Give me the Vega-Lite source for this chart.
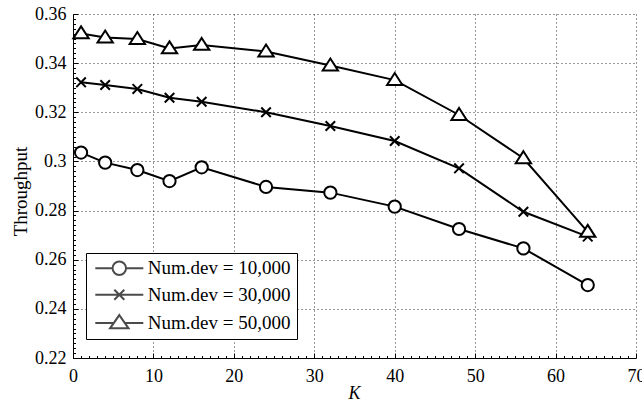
{
  "$schema": "https://vega.github.io/schema/vega-lite/v6.json",
  "autosize": {"type": "none"},
  "padding": {"left": 73, "top": 14, "right": 6, "bottom": 46},
  "width": 563,
  "height": 344,
  "config": {
    "font": "Liberation Serif",
    "view": {"stroke": null},
    "axis": {
      "labelFont": "Liberation Serif",
      "titleFont": "Liberation Serif",
      "labelColor": "black",
      "titleColor": "black",
      "domainColor": "black",
      "domainWidth": 1,
      "tickColor": "black",
      "tickWidth": 1,
      "gridColor": "#333333",
      "gridDash": [1, 3],
      "gridWidth": 1
    }
  },
  "data": {
    "values": [
      {"K": 1, "series": "Num.dev = 10,000", "T": 0.3036},
      {"K": 4, "series": "Num.dev = 10,000", "T": 0.2995},
      {"K": 8, "series": "Num.dev = 10,000", "T": 0.2965},
      {"K": 12, "series": "Num.dev = 10,000", "T": 0.2920},
      {"K": 16, "series": "Num.dev = 10,000", "T": 0.2976},
      {"K": 24, "series": "Num.dev = 10,000", "T": 0.2896},
      {"K": 32, "series": "Num.dev = 10,000", "T": 0.2873},
      {"K": 40, "series": "Num.dev = 10,000", "T": 0.2816},
      {"K": 48, "series": "Num.dev = 10,000", "T": 0.2725},
      {"K": 56, "series": "Num.dev = 10,000", "T": 0.2646},
      {"K": 64, "series": "Num.dev = 10,000", "T": 0.2497},
      {"K": 1, "series": "Num.dev = 30,000", "T": 0.3322},
      {"K": 4, "series": "Num.dev = 30,000", "T": 0.3311},
      {"K": 8, "series": "Num.dev = 30,000", "T": 0.3295},
      {"K": 12, "series": "Num.dev = 30,000", "T": 0.3259},
      {"K": 16, "series": "Num.dev = 30,000", "T": 0.3243},
      {"K": 24, "series": "Num.dev = 30,000", "T": 0.3200},
      {"K": 32, "series": "Num.dev = 30,000", "T": 0.3144},
      {"K": 40, "series": "Num.dev = 30,000", "T": 0.3083},
      {"K": 48, "series": "Num.dev = 30,000", "T": 0.2972},
      {"K": 56, "series": "Num.dev = 30,000", "T": 0.2795},
      {"K": 64, "series": "Num.dev = 30,000", "T": 0.2694},
      {"K": 1, "series": "Num.dev = 50,000", "T": 0.3521},
      {"K": 4, "series": "Num.dev = 50,000", "T": 0.3504},
      {"K": 8, "series": "Num.dev = 50,000", "T": 0.3498},
      {"K": 12, "series": "Num.dev = 50,000", "T": 0.3460},
      {"K": 16, "series": "Num.dev = 50,000", "T": 0.3474},
      {"K": 24, "series": "Num.dev = 50,000", "T": 0.3447},
      {"K": 32, "series": "Num.dev = 50,000", "T": 0.3390},
      {"K": 40, "series": "Num.dev = 50,000", "T": 0.3331},
      {"K": 48, "series": "Num.dev = 50,000", "T": 0.3189},
      {"K": 56, "series": "Num.dev = 50,000", "T": 0.3013},
      {"K": 64, "series": "Num.dev = 50,000", "T": 0.2713}
    ]
  },
  "encoding": {
    "x": {
      "field": "K",
      "type": "quantitative",
      "scale": {"domain": [0, 70], "nice": false, "zero": false},
      "axis": {
        "title": "K",
        "titleFontStyle": "italic",
        "titleFontWeight": "normal",
        "titleFontSize": 18,
        "titleX": 281,
        "titleY": 40,
        "titleBaseline": "alphabetic",
        "titleAlign": "center",
        "tickCount": 70,
        "labelFontSize": 18,
        "labelBaseline": "alphabetic",
        "labelPadding": 28,
        "labelFlush": false,
        "labelOverlap": false,
        "labelExpr": "datum.value % 10 === 0 ? datum.label : ''",
        "tickSize": {"condition": {"test": "datum.value % 10 === 0", "value": -5}, "value": -2.5},
        "gridOpacity": {"condition": {"test": "datum.value % 10 === 0", "value": 1}, "value": 0}
      }
    },
    "y": {
      "field": "T",
      "type": "quantitative",
      "scale": {"domain": [0.22, 0.36], "nice": false, "zero": false},
      "axis": {
        "title": "Throughput",
        "titleFontWeight": "normal",
        "titleFontSize": 19,
        "titleX": -47,
        "titleY": 177,
        "titleBaseline": "alphabetic",
        "titleAlign": "center",
        "tickCount": 70,
        "labelFontSize": 18,
        "labelBaseline": "middle",
        "labelAlign": "right",
        "labelPadding": 12,
        "labelFlush": false,
        "labelOverlap": false,
        "labelExpr": "round(datum.value * 500) % 10 === 0 ? format(datum.value, '.2~f') : ''",
        "tickSize": {"condition": {"test": "round(datum.value * 500) % 10 === 0", "value": -5}, "value": -2.5},
        "gridOpacity": {"condition": {"test": "round(datum.value * 500) % 10 === 0", "value": 1}, "value": 0}
      }
    }
  },
  "layer": [
    {
      "mark": {"type": "line", "color": "black", "strokeWidth": 2},
      "encoding": {"detail": {"field": "series"}}
    },
    {
      "mark": {"type": "point", "fill": "white", "stroke": "black", "strokeWidth": 2, "size": 150, "opacity": 1},
      "encoding": {
        "shape": {
          "field": "series",
          "type": "nominal",
          "scale": {
            "domain": ["Num.dev = 10,000", "Num.dev = 30,000", "Num.dev = 50,000"],
            "range": ["circle", "M-0.78,-0.78L0.78,0.78M0.78,-0.78L-0.78,0.78", "M0,-1.15L1.25,0.8L-1.25,0.8Z"]
          },
          "legend": null
        }
      }
    },
    {
      "transform": [{"filter": "datum.K < 0"}],
      "mark": {"type": "point", "color": "black", "filled": false, "strokeWidth": 2},
      "encoding": {
        "shape": {
          "field": "series",
          "type": "nominal",
          "scale": {
            "domain": ["Num.dev = 10,000", "Num.dev = 30,000", "Num.dev = 50,000"],
            "range": [
              "M-4.8,0L-1.35,0M1.35,0L4.8,0M-1.35,0A1.35,1.35 0 1,1 1.35,0A1.35,1.35 0 1,1 -1.35,0Z",
              "M-4.8,0L4.8,0M-1,-1L1,1M1,-1L-1,1",
              "M-4.8,0L-1.1,0M1.1,0L4.8,0M0,-1.6L1.85,1.05L-1.85,1.05Z"
            ]
          },
          "legend": {
            "title": null,
            "orient": "none",
            "legendX": 13,
            "legendY": 239,
            "strokeColor": "black",
            "fillColor": "white",
            "padding": 5.8,
            "labelFont": "Liberation Serif",
            "labelFontSize": 19,
            "labelColor": "black",
            "labelLimit": 400,
            "labelExpr": "datum.label + '\u00a0\u00a0\u00a0'",
            "rowPadding": 5.4,
            "symbolOffset": 18,
            "labelOffset": 19,
            "symbolSize": 100,
            "symbolStrokeWidth": 2,
            "symbolStrokeColor": "black"
          }
        }
      }
    }
  ],
  "resolve": {"scale": {"shape": "independent"}}
}
